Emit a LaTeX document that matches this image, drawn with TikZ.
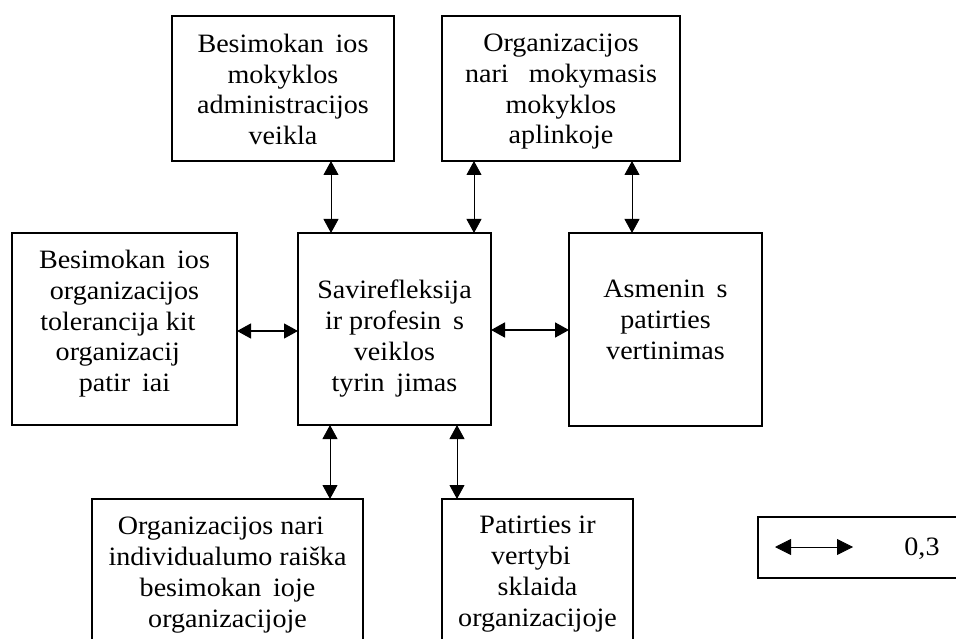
\documentclass[tikz,border=0pt]{standalone}
\usepackage{fontspec}
\setmainfont{Liberation Serif}[FakeStretch=1.06]
\usetikzlibrary{arrows.meta}

% gaps where a glyph of the source font is absent
\newcommand{\gc}{\rule{0.444em}{0pt}}
\newcommand{\gu}{\rule{0.5em}{0pt}}

\tikzset{
  box/.style={draw, line width=1.5pt, rectangle, inner sep=0pt, outer sep=0pt},
  txt/.style={align=center, inner sep=0pt, anchor=north,
              font=\fontsize{26.5}{30.8}\selectfont},
  conn/.style={{Triangle[length=14pt,width=15pt]}-{Triangle[length=14pt,width=15pt]}, line width=0.8pt},
}

\begin{document}
\begin{tikzpicture}[x=1pt,y=-1pt]
\useasboundingbox (0,0) rectangle (956,639);
\clip (0,0) rectangle (956,639);

% boxes
\node[box, minimum width=222, minimum height=145] (A)  at (283,88.5) {};
\node[box, minimum width=238, minimum height=145] (B)  at (561,88.5) {};
\node[box, minimum width=225, minimum height=192] (L)  at (124.5,329) {};
\node[box, minimum width=193, minimum height=192] (C)  at (394.5,329) {};
\node[box, minimum width=193, minimum height=193] (R)  at (665.5,329.5) {};
\node[box, minimum width=271, minimum height=200] (BL) at (227.5,599) {};
\node[box, minimum width=191, minimum height=200] (BR) at (537.5,599) {};
\node[box, minimum width=222, minimum height=61]  (K)  at (869,547.5) {};

% box texts
\node[txt] (tA) at (283,33.8) {Besimokan\gc ios\\mokyklos\\administracijos\\veikla};
\node[txt] (tB) at (561,33.8) {Organizacijos\\nari\gu{} mokymasis\\mokyklos\\aplinkoje};
\node[txt] (tL) at (124.5,250) {Besimokan\gc ios\\organizacijos\\tolerancija kit\gu\\organizacij\gu\\patir\gc iai};
\node[txt] (tC) at (394.5,280) {Savirefleksija\\ir profesin\gc s\\veiklos\\tyrin\gc jimas};
\node[txt] (tR) at (665.5,280) {Asmenin\gc s\\patirties\\vertinimas};
\node[txt] (tBL) at (227.5,517) {Organizacijos nari\gu\\individualumo raiška\\besimokan\gc ioje\\organizacijoje};
\node[txt] (tBR) at (537.5,516) {Patirties ir\\vertybi\gu\\sklaida\\organizacijoje};

% connector positions
\coordinate (v1) at (331,0);
\coordinate (v2) at (474,0);
\coordinate (v3) at (632,0);
\coordinate (v4) at (330,0);
\coordinate (v5) at (457,0);
\coordinate (h1) at (0,331);
\coordinate (h2) at (0,330);

% connectors
\draw[conn] (A.south -| v1) -- (C.north -| v1);
\draw[conn] (B.south -| v2) -- (C.north -| v2);
\draw[conn] (B.south -| v3) -- (R.north -| v3);
\draw[conn] (C.south -| v4) -- (BL.north -| v4);
\draw[conn] (C.south -| v5) -- (BR.north -| v5);
\draw[conn, line width=1.2pt] (L.east |- h1) -- (C.west |- h1);
\draw[conn, line width=1.8pt] (C.east |- h2) -- (R.west |- h2);

% legend
\coordinate (k1) at (775,547);
\coordinate (k2) at (853,547);
\draw[{Triangle[length=16pt,width=16pt]}-{Triangle[length=16pt,width=16pt]}, line width=0.8pt] (k1) -- (k2);
\node[anchor=base, inner sep=0pt, font=\fontsize{26.5}{30.8}\selectfont] (kt) at (922,555) {0,3};
\end{tikzpicture}
\end{document}
